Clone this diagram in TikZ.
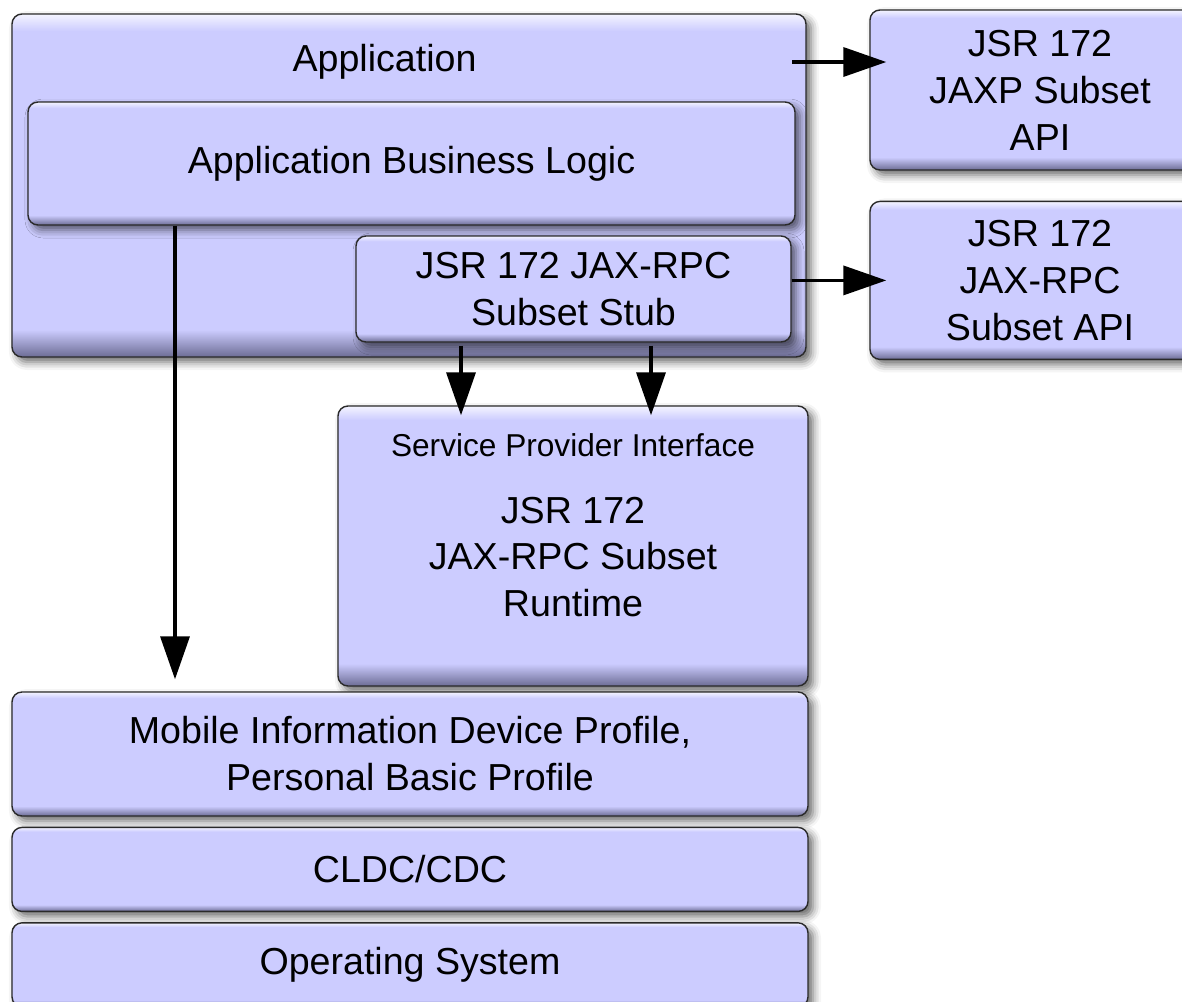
\documentclass[tikz,border=0pt]{standalone}
\usepackage{fontspec}
\setmainfont{Liberation Sans}
\usetikzlibrary{positioning,arrows.meta,shadows.blur}

\definecolor{layerfill}{HTML}{CCCCFF}
\definecolor{layerdark}{HTML}{6C6C94}
\definecolor{layerlight}{HTML}{F4F4FF}
\definecolor{layeredge}{HTML}{2A2A2A}
% light rim on top, darker rim at the bottom
\pgfdeclareverticalshading{layershade}{100bp}{color(0bp)=(layerdark); color(25bp)=(layerdark);
  color(29bp)=(layerfill); color(72.5bp)=(layerfill); color(75bp)=(layerlight); color(100bp)=(layerlight)}

\begin{document}
\begin{tikzpicture}[node distance=0.2cm and 0.2cm,
    font=\fontsize{21.4pt}{26.7pt}\selectfont,
    layer/.style={draw=layeredge, line width=0.8pt, rounded corners=0.2cm, shading=layershade,
      align=center, blur shadow={shadow xshift=0.1cm, shadow yshift=-0.1cm,
      shadow blur radius=0.16cm, shadow opacity=60}},
    flow/.style={-{Triangle[length=0.86cm, width=0.58cm]}, line width=2pt}]
  \useasboundingbox (0,0) rectangle (23.64,-20.02);

  % application layer
  \node[layer, minimum width=15.88cm, minimum height=6.86cm] (app) at (8.18,-3.71) {};
  \node (apptitle) at (7.69,-1.24) {Application};
  \node[layer, minimum width=15.34cm, minimum height=2.46cm] (logic) at (8.23,-3.27) {Application Business Logic};
  \node[layer, minimum width=8.7cm, minimum height=2.12cm] (stub) at (11.47,-5.78) {JSR 172 JAX-RPC\\Subset Stub};

  % optional APIs
  \node[layer, minimum width=6.8cm, minimum height=3.2cm] (jaxp) at (20.8,-1.8) {JSR 172\\JAXP Subset\\API};
  \node[layer, minimum width=6.8cm, minimum height=3.16cm, below=0.6cm of jaxp] (rpcapi) {JSR 172\\JAX-RPC\\Subset API};

  % runtime
  \node[layer, minimum width=9.4cm, minimum height=5.6cm] (spi) at (11.46,-10.92) {};
  \node[font=\fontsize{18pt}{22pt}\selectfont] (spititle) at (11.46,-8.9) {Service Provider Interface};
  \node[align=center] (runtime) at (11.46,-11.14) {JSR 172\\JAX-RPC Subset\\Runtime};

  % platform stack
  \node[layer, minimum width=15.92cm, minimum height=2.48cm] (midp) at (8.2,-15.08) {Mobile Information Device Profile,\\Personal Basic Profile};
  \node[layer, minimum width=15.92cm, minimum height=1.68cm, below=of midp] (cldc) {CLDC/CDC};
  \node[layer, minimum width=15.92cm, minimum height=1.68cm, below=of cldc] (os) {Operating System};

  \coordinate (appout) at (15.84,-1.24);
  \draw[flow, shorten >=-0.34cm] (appout) -- (appout -| jaxp.west);
  \draw[flow, shorten >=-0.34cm] (rpcapi.west -| stub.east) -- (rpcapi.west);
  \foreach \x in {9.22,13.02}
    \draw[flow, shorten <=0.06cm, shorten >=-0.2cm] (stub.south -| \x,0) -- (spi.north -| \x,0);
  \draw[flow, shorten >=0.24cm] (logic.south -| 3.5,0) -- (midp.north -| 3.5,0);
\end{tikzpicture}
\end{document}
